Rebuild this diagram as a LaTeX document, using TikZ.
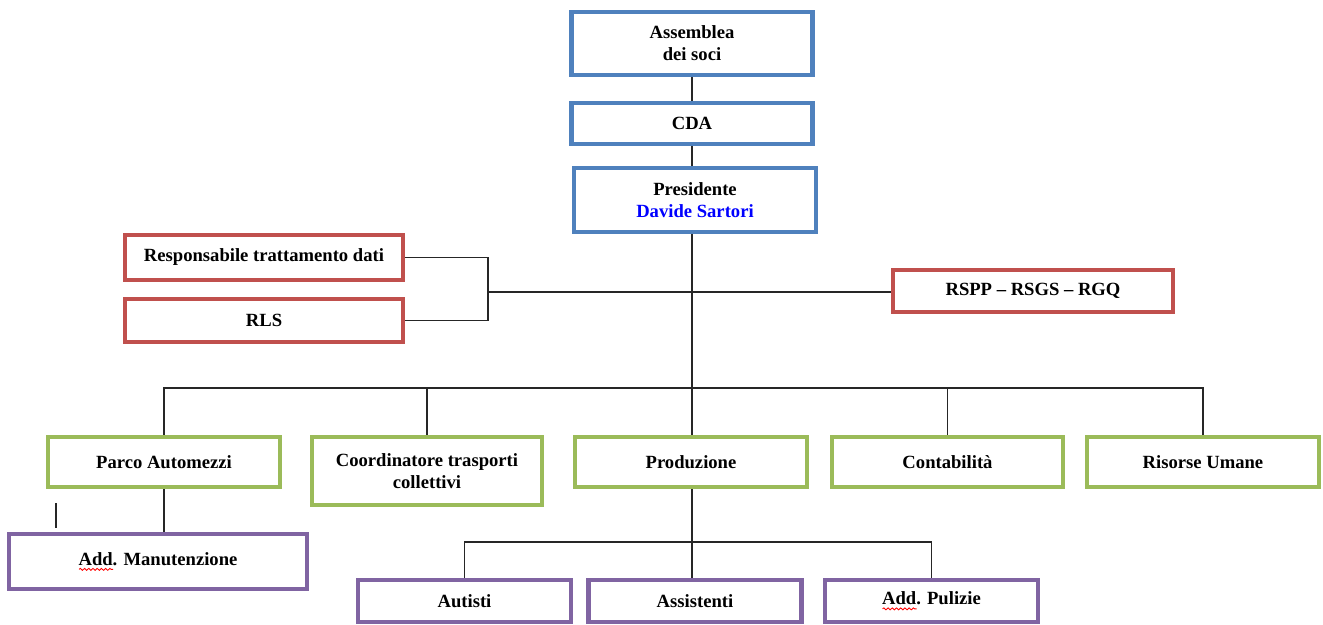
\documentclass[tikz,border=0pt]{standalone}
\usepackage{fontspec}
\setmainfont{Liberation Serif}
\usepackage{xcolor}
\usepackage{tikz}
\usetikzlibrary{positioning, calc, decorations.pathmorphing}

\definecolor{boxblue}{HTML}{4F81BD}
\definecolor{boxred}{HTML}{C0504D}
\definecolor{boxgreen}{HTML}{9BBB59}
\definecolor{boxpurple}{HTML}{8064A2}

\newsavebox{\spellbox}
\newcommand{\spellmark}[1]{\sbox{\spellbox}{#1}%
  \rlap{\raisebox{-2.4pt}{\tikz[baseline=0pt]\draw[red, line width=0.5pt, decorate,
    decoration={snake, amplitude=0.55pt, segment length=2.4pt}] (0pt,0pt) -- (\wd\spellbox,0pt);}}%
  \usebox{\spellbox}}

\begin{document}
\begin{tikzpicture}[x=0.02cm, y=-0.02cm,
  box/.style={draw=#1, line width=2.5pt, fill=white, align=center, inner sep=2pt,
    font=\bfseries\fontsize{10.6}{12.5}\selectfont},
  link/.style={line width=0.85pt, black!85},
]
  \useasboundingbox (0,0) rectangle (1323,625);

  \node[box=boxblue, minimum width=4.82cm, minimum height=1.26cm] (ass) at (692,43.5) {Assemblea\\dei soci};
  \node[box=boxblue, minimum width=4.82cm, minimum height=0.82cm] (cda) at (692,123.5) {CDA};
  \node[box=boxblue, minimum width=4.84cm, minimum height=1.28cm] (pres) at (695,200) {Presidente\\\textcolor{blue}{Davide Sartori}};

  \node[box=boxred, minimum width=5.56cm, minimum height=0.9cm] (resp) at (264,257.5) {Responsabile trattamento dati};
  \node[box=boxred, minimum width=5.56cm, minimum height=0.86cm] (rls) at (264,320.5) {RLS};
  \node[box=boxred, minimum width=5.6cm, minimum height=0.84cm] (rspp) at (1033,291) {RSPP -- RSGS -- RGQ};

  \node[box=boxgreen, minimum width=4.64cm, minimum height=1cm] (parco) at (164,462) {Parco Automezzi};
  \node[box=boxgreen, minimum width=4.6cm, minimum height=1.36cm] (coord) at (427,471) {Coordinatore trasporti\\collettivi};
  \node[box=boxgreen, minimum width=4.64cm, minimum height=1cm] (prod) at (691,462) {Produzione};
  \node[box=boxgreen, minimum width=4.62cm, minimum height=1cm] (conta) at (947.5,462) {Contabilità};
  \node[box=boxgreen, minimum width=4.64cm, minimum height=1cm] (risorse) at (1203,462) {Risorse Umane};

  \node[box=boxpurple, minimum width=5.96cm, minimum height=1.1cm] (manut) at (158,561.5) {\spellmark{Add}. Manutenzione};
  \node[box=boxpurple, minimum width=4.26cm, minimum height=0.84cm] (autisti) at (464.5,601) {Autisti};
  \node[box=boxpurple, minimum width=4.26cm, minimum height=0.84cm] (assist) at (695,601) {Assistenti};
  \node[box=boxpurple, minimum width=4.26cm, minimum height=0.84cm] (pulizie) at (931.5,601) {\spellmark{Add}. Pulizie};

  \coordinate (bus) at (692,388);
  \coordinate (brk) at (488,292);
  \coordinate (bus2) at (692,542);
  \coordinate (tickA) at (56,503);
  \coordinate (tickB) at (56,528);

  \draw[link] (ass.south) -- (cda.north);
  \draw[link] (cda.south) -- (cda.south |- pres.north);
  \draw[link] (bus |- pres.south) -- (bus |- prod.north);
  \draw[link] (resp.east) -| (brk |- rls.east) -- (rls.east);
  \draw[link] (brk) -- (brk -| rspp.west);
  \draw[link] (parco.north) |- (bus) -| (risorse.north);
  \foreach \n in {coord, conta}
    \draw[link] (\n.north) -- (\n.north |- bus);
  \draw[link] (parco.south) -- (parco.south |- manut.north);
  \draw[link] (tickA) -- (tickB);
  \draw[link] (bus2 |- prod.south) -- (bus2 |- assist.north);
  \draw[link] (autisti.north) |- (bus2) -| (pulizie.north);
\end{tikzpicture}
\end{document}
